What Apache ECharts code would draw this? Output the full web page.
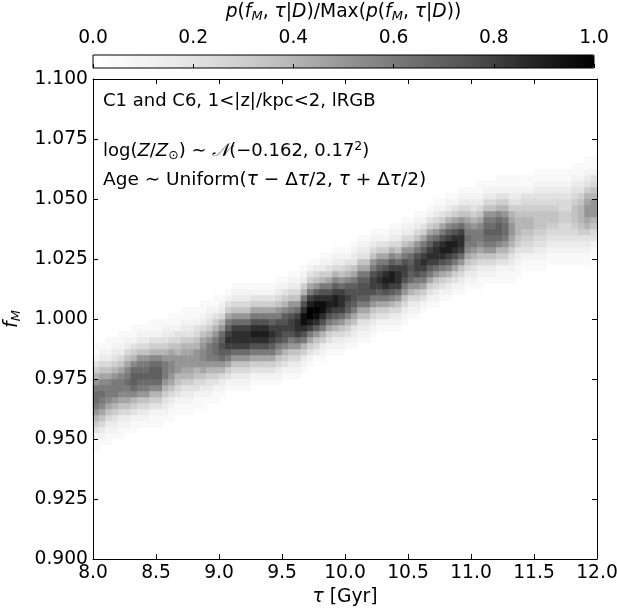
<!DOCTYPE html>
<html><head><meta charset="utf-8">
<script src="https://cdn.jsdelivr.net/npm/echarts@6/dist/echarts.min.js"></script>
<style>html,body{margin:0;padding:0;background:#fff}#c{width:617px;height:610px}</style>
</head><body><div id="c"></div>
<script>
// axis ranges
const tauRange = [8.0, 12.0];
const fMRange = [0.9, 1.1];
const nTau = 80, nF = 80;
const tauTickStep = 0.5, fMTickStep = 0.025, cbTickStep = 0.2;
// per tau column: lowest f_M row index of the band and its cell values (base-36 chars, value = n/20), bottom -> top
const colBase = [18,19,19,20,20,21,21,22,22,22, 22,23,23,24,24,24,25,25,26,26,
                 27,28,28,28,28,29,29,29,29,29, 30,30,30,31,32,33,33,34,34,34,
                 35,35,36,36,37,38,38,38,38,39, 40,40,41,42,42,43,43,44,44,45,
                 45,45,46,46,46,46,46,47,47,47, 48,48,48,48,48,48,49,49,49,50];
const colCells = [
 "112468acddca864211","123579bcdcb975321","1123579bccb9753211","123468accca864321","1123579bccb9753211",
 "123579bcdcb975321","112468bdeedb864211","12357acdedca75321","12357acdedca75321","112468bdeedb864211",
 "112468bdeedb864211","123468accca864321","1123579abba9753211","1124578aaa8754211","11234689aa98643211",
 "11234689aa98643211","1124578aaa8754211","1123579abba9753211","123468accca864321","112468acddca864211",
 "12358adefeda85321","12469ceghgec96421","12357adghhgda75321","12357adghhgda75321","12357adghhgda75321",
 "12469cfhihfc96421","12469cfhihfc96421","12469cfhihfc96421","12469ceghgec96421","12357acfggfca75321",
 "12468befgfeb86421","12357acfggfca75321","12357adghhgda75321","12368cfhjjhfc86321","12469cgikkigc96421",
 "1357aehjkjhea7531","12368cfhjjhfc86321","12469cfhihfc96421","12358begiigeb85321","12357adghhgda75321",
 "12468befgfeb86421","123479ceffec974321","123479ceffec974321","123479ceffec974321","12357acfggfca75321",
 "12469ceghgec96421","12469cfhihfc96421","12358begiigeb85321","12357adghhgda75321","12357acfggfca75321",
 "12358adefeda85321","12357acfggfca75321","12469ceghgec96421","12469ceghgec96421","12357adghhgda75321",
 "12469cfhihfc96421","12358begiigeb85321","12469cfhihfc96421","12357adghhgda75321","123579bcdcb975321",
 "123468accca864321","1123579bccb9753211","12357acdedca75321","12357acdedca75321","112468bdeedb864211",
 "112468acddca864211","11234689aa98643211","11234678887643211","011245678876542110","011245678876542110",
 "11234567776543211","11234567776543211","011234567765432110","011234567765432110","011234556655432110",
 "011234556655432110","11234567776543211","11234678887643211","11234689aa98643211","1124578aaa8754211"
];
const greys = ['#ffffff','#f0f0f0','#d9d9d9','#bdbdbd','#969696','#737373','#525252','#252525','#000000'];

const tauCats = Array.from({length: nTau}, (_, i) => String(i));
const fCats = Array.from({length: nF}, (_, j) => String(j));
const heat = [];
colCells.forEach((s, i) => {
  for (let k = 0; k < s.length; k++) {
    const v = parseInt(s[k], 36) / 20;
    if (v > 0) heat.push([i, colBase[i] + k, v]);
  }
});

const FF = '"DejaVu Sans", sans-serif';
const FS = 18.7;
const rich = {
  i: {fontStyle: 'italic', fontFamily: FF, fontSize: FS, color: '#000'},
  s: {fontStyle: 'italic', fontFamily: FF, fontSize: 13, padding: [9, 0, 0, 0], color: '#000'},
  n: {fontFamily: FF, fontSize: FS, color: '#000'}
};
const tickIn = {show: true, inside: true, length: 5, lineStyle: {color: '#000', width: 1}};
const line = {show: true, onZero: false, lineStyle: {color: '#000', width: 1}};

const chart = echarts.init(document.getElementById('c'), null, {renderer: 'canvas'});
chart.setOption({
  animation: false,
  backgroundColor: '#fff',
  grid: [
    {left: 93, top: 79, width: 504, height: 480, containLabel: false, outerBoundsMode: 'none'},
    {left: 93, top: 55, width: 501, height: 13, containLabel: false, outerBoundsMode: 'none', show: true, borderColor: '#000', borderWidth: 1, backgroundColor: 'transparent', z: 10}
  ],
  xAxis: [
    {type: 'category', gridIndex: 0, data: tauCats, show: false},
    {type: 'value', gridIndex: 0, z: 10, min: tauRange[0], max: tauRange[1], interval: tauTickStep, position: 'bottom',
     axisLine: line, axisTick: tickIn, splitLine: {show: false},
     axisLabel: {fontFamily: FF, fontSize: FS, color: '#000', margin: 5, formatter: v => v.toFixed(1)},
     name: '{i|τ}{n| [Gyr]}', nameLocation: 'middle', nameGap: 29,
     nameTextStyle: {fontFamily: FF, fontSize: FS, color: '#000', rich: rich}},
    {type: 'value', gridIndex: 0, z: 10, min: tauRange[0], max: tauRange[1], interval: tauTickStep, position: 'top',
     axisLine: line, axisTick: tickIn, splitLine: {show: false}, axisLabel: {show: false}},
    {type: 'value', gridIndex: 1, z: 10, min: 0, max: 1, interval: cbTickStep, position: 'top',
     axisLine: {show: false}, axisTick: {show: true, inside: false, length: 4, lineStyle: {color: '#000'}}, splitLine: {show: false},
     axisLabel: {fontFamily: FF, fontSize: FS, color: '#000', margin: 7, formatter: v => v.toFixed(1)},
     name: '{i|p}{n|(}{i|f}{s|M}{n|, }{i|τ}{n||}{i|D}{n|)/Max(}{i|p}{n|(}{i|f}{s|M}{n|, }{i|τ}{n||}{i|D}{n|))}',
     nameLocation: 'middle', nameGap: 32,
     nameTextStyle: {fontFamily: FF, fontSize: FS, color: '#000', rich: rich}}
  ],
  yAxis: [
    {type: 'category', gridIndex: 0, data: fCats, show: false},
    {type: 'value', gridIndex: 0, z: 10, min: fMRange[0], max: fMRange[1], interval: fMTickStep, position: 'left',
     axisLine: line, axisTick: tickIn, splitLine: {show: false},
     axisLabel: {fontFamily: FF, fontSize: FS, color: '#000', margin: 5, formatter: v => v.toFixed(3)},
     name: '{i|f}{s|M}', nameLocation: 'middle', nameGap: 70,
     nameTextStyle: {fontFamily: FF, fontSize: FS, color: '#000', rich: rich}},
    {type: 'value', gridIndex: 0, z: 10, min: fMRange[0], max: fMRange[1], interval: fMTickStep, position: 'right',
     axisLine: line, axisTick: tickIn, splitLine: {show: false}, axisLabel: {show: false}},
    {type: 'value', gridIndex: 1, min: 0, max: 1, show: false}
  ],
  visualMap: {
    type: 'continuous', min: 0, max: 1, seriesIndex: 0, orient: 'horizontal',
    left: 93, top: 55, itemWidth: 13, itemHeight: 501, padding: 0,
    calculable: false, text: null, showLabel: false, hoverLink: false,
    inRange: {color: greys}
  },
  series: [{
    type: 'heatmap', xAxisIndex: 0, yAxisIndex: 0, data: heat, z: 1,
    itemStyle: {borderWidth: 0}, emphasis: {disabled: true}, progressive: 0
  }],
  graphic: [
    {type: 'text', left: 103, top: 92, z: 100, style: {text: 'C1 and C6, 1<|z|/kpc<2, lRGB', fontFamily: FF, fontSize: 18, fill: '#000'}},
    {type: 'text', left: 103, top: 140, z: 100, style: {
      text: '{n|log(}{i|Z}{n|/}{i|Z}{s|⊙}{n|) ∼ }{c|𝒩}{n|(−0.162, 0.17}{p|2}{n|)}',
      fontFamily: FF, fontSize: 18, fill: '#000',
      rich: {
        n: {fontFamily: FF, fontSize: 18, fill: '#000'},
        i: {fontFamily: FF, fontSize: 18, fontStyle: 'italic', fill: '#000'},
        s: {fontFamily: FF, fontSize: 12.5, padding: [9, 0, 0, 0], fill: '#000'},
        p: {fontFamily: FF, fontSize: 12.5, padding: [0, 0, 9, 0], fill: '#000'},
        c: {fontFamily: '"DejaVu Serif", serif', fontSize: 18, fontStyle: 'italic', fill: '#000'}
      }}},
    {type: 'text', left: 103, top: 171, z: 100, style: {
      text: '{n|Age ∼ Uniform(}{i|τ}{n| − Δ}{i|τ}{n|/2, }{i|τ}{n| + Δ}{i|τ}{n|/2)}',
      fontFamily: FF, fontSize: 18.5, fill: '#000',
      rich: {
        n: {fontFamily: FF, fontSize: 18.5, fill: '#000'},
        i: {fontFamily: FF, fontSize: 18.5, fontStyle: 'italic', fill: '#000'}
      }}}
  ]
});
</script>
</body></html>
